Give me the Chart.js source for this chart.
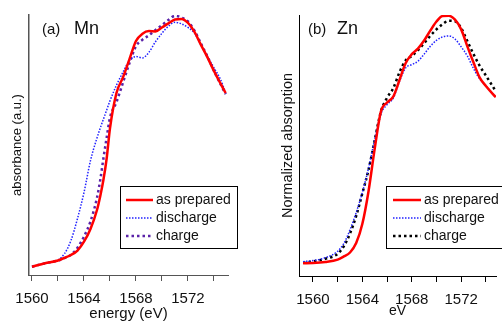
<!DOCTYPE html>
<html>
<head>
<meta charset="utf-8">
<script src="https://cdn.jsdelivr.net/npm/chart.js@4/dist/chart.umd.min.js"></script>
<style>
  html, body { margin: 0; padding: 0; background: #fff; }
  #wrap { position: relative; width: 502px; height: 323px; overflow: hidden; }
  canvas { position: absolute; top: 0; }
  #mnChart { left: 0; }
  #znChart { left: 251px; }
</style>
</head>
<body>
<div id="wrap">
  <canvas id="mnChart" width="251" height="323"></canvas>
  <canvas id="znChart" width="251" height="323"></canvas>
</div>
<script>
// (a) Mn edge
const mnEnergy = [1560, 1561, 1562, 1562.5, 1563, 1563.5, 1564, 1564.5, 1565, 1565.25, 1565.5, 1565.75,
  1566, 1566.5, 1567, 1567.5, 1568, 1568.5, 1569, 1569.5, 1570, 1570.5, 1571, 1571.5,
  1572, 1572.5, 1573, 1573.5, 1574, 1574.5, 1574.9];
const mnPrepared = [0.032, 0.045, 0.056, 0.066, 0.077, 0.094, 0.128, 0.177, 0.25, 0.303, 0.367, 0.45,
  0.564, 0.70, 0.76, 0.83, 0.90, 0.928, 0.938, 0.937, 0.952, 0.968, 0.983, 0.985,
  0.97, 0.935, 0.885, 0.837, 0.785, 0.737, 0.70];
const mnDischarge = [0.032, 0.045, 0.058, 0.082, 0.133, 0.217, 0.317, 0.44, 0.527, 0.565, 0.60, 0.635,
  0.67, 0.73, 0.78, 0.825, 0.84, 0.835, 0.857, 0.897, 0.93, 0.957, 0.972, 0.966,
  0.952, 0.93, 0.885, 0.84, 0.797, 0.753, 0.70];
const mnCharge = [0.032, 0.045, 0.056, 0.065, 0.078, 0.105, 0.148, 0.206, 0.297, 0.365, 0.45, 0.53,
  0.605, 0.665, 0.74, 0.815, 0.88, 0.905, 0.922, 0.942, 0.961, 0.981, 0.997, 0.99,
  0.975, 0.94, 0.89, 0.84, 0.785, 0.735, 0.695];

// (b) Zn edge
const znEnergy = [1559.2, 1560, 1561, 1562, 1562.5, 1563, 1563.5, 1564, 1564.5, 1565, 1565.5,
  1566, 1566.5, 1567, 1567.5, 1568, 1568.5, 1569, 1569.5, 1570, 1570.5, 1571, 1571.5,
  1572, 1572.5, 1573, 1573.5, 1574, 1574.8];
const znPrepared = [0.049, 0.050, 0.054, 0.063, 0.075, 0.09, 0.126, 0.20, 0.325, 0.488, 0.63,
  0.665, 0.687, 0.75, 0.815, 0.85, 0.871, 0.902, 0.94, 0.975, 0.996, 0.997, 0.982,
  0.945, 0.88, 0.818, 0.76, 0.728, 0.685];
const znDischarge = [0.055, 0.059, 0.07, 0.095, 0.125, 0.177, 0.243, 0.32, 0.413, 0.523, 0.62,
  0.657, 0.681, 0.745, 0.797, 0.81, 0.823, 0.85, 0.88, 0.903, 0.916, 0.92, 0.908,
  0.878, 0.843, 0.795, 0.755, 0.728, 0.685];
const znCharge = [0.051, 0.056, 0.066, 0.085, 0.114, 0.163, 0.23, 0.317, 0.407, 0.52, 0.63,
  0.683, 0.719, 0.78, 0.826, 0.843, 0.865, 0.892, 0.92, 0.945, 0.965, 0.978, 0.976,
  0.95, 0.90, 0.85, 0.805, 0.768, 0.708];

const seriesNames = ['as prepared', 'discharge', 'charge'];

const FONT = "'Liberation Sans', Arial, Helvetica, sans-serif";
Chart.defaults.font.family = FONT;
Chart.defaults.color = '#111';

function pts(xs, ys) {
  return xs.map((x, i) => ({ x: x, y: ys[i] }));
}

// panel tag + element name, e.g. "(a)  Mn"
const panelText = {
  id: 'panelText',
  afterDraw(chart, args, o) {
    const ctx = chart.ctx;
    ctx.save();
    ctx.fillStyle = '#111';
    ctx.textBaseline = 'alphabetic';
    ctx.font = '15px ' + FONT;
    ctx.fillText(o.tag, o.tagX, o.y);
    ctx.font = '18px ' + FONT;
    ctx.fillText(o.name, o.nameX, o.y);
    ctx.restore();
  }
};

// boxed legend inside the plot
const boxLegend = {
  id: 'boxLegend',
  afterDraw(chart, args, o) {
    const ctx = chart.ctx;
    ctx.save();
    ctx.fillStyle = '#fff';
    ctx.fillRect(o.x, o.y, o.w, o.h);
    ctx.strokeStyle = '#000';
    ctx.lineWidth = 1;
    ctx.strokeRect(o.x + 0.5, o.y + 0.5, o.w, o.h);
    chart.data.datasets.forEach((ds, i) => {
      const yy = o.rowY + i * o.rowGap;
      ctx.beginPath();
      ctx.strokeStyle = ds.borderColor;
      ctx.lineWidth = ds.borderWidth;
      ctx.setLineDash(ds.borderDash || []);
      ctx.moveTo(o.lineX, yy);
      ctx.lineTo(o.lineX + o.lineLen, yy);
      ctx.stroke();
      ctx.setLineDash([]);
      ctx.fillStyle = '#111';
      ctx.font = '14px ' + FONT;
      ctx.textBaseline = 'middle';
      ctx.fillText(ds.label, o.textX, yy);
    });
    ctx.restore();
  }
};

function makeChart(id, cfg) {
  return new Chart(document.getElementById(id), {
    type: 'line',
    data: {
      datasets: [
        {
          label: seriesNames[0],
          data: pts(cfg.energy, cfg.prepared),
          borderColor: '#ff0000',
          borderWidth: 2.5,
        },
        {
          label: seriesNames[1],
          data: pts(cfg.energy, cfg.discharge),
          borderColor: '#2222ff',
          borderWidth: 1.5,
          borderDash: [1.5, 1.5],
        },
        {
          label: seriesNames[2],
          data: pts(cfg.energy, cfg.charge),
          borderColor: cfg.chargeColor,
          borderWidth: 2.5,
          borderDash: [2.5, 3],
        }
      ]
    },
    options: {
      responsive: false,
      animation: false,
      events: [],
      elements: {
        point: { radius: 0 },
        line: { cubicInterpolationMode: 'monotone', borderCapStyle: 'butt' }
      },
      layout: { padding: { top: 15, right: cfg.padRight, left: 0, bottom: 0 } },
      scales: {
        x: {
          type: 'linear',
          min: cfg.xMin,
          max: cfg.xMax,
          border: { display: true, color: cfg.axisColor, width: 1 },
          grid: { display: true, drawOnChartArea: false, drawTicks: true, tickLength: 6, color: cfg.axisColor },
          ticks: {
            stepSize: 2,
            includeBounds: false,
            autoSkip: false,
            maxRotation: 0,
            minRotation: 0,
            padding: 9,
            font: { size: 15 },
            callback: v => (Math.round(v) % 4 === 0 ? String(Math.round(v)) : '')
          },
          title: { display: true, text: cfg.xTitle, font: { size: cfg.xTitleSize }, color: '#111',
                   padding: { top: 0, bottom: cfg.xTitlePad } },
          afterFit: s => { s.height = cfg.xHeight; }
        },
        y: {
          min: 0,
          max: 1,
          border: { display: true, color: cfg.axisColor, width: cfg.yAxisWidth },
          grid: { display: false },
          ticks: { display: false },
          title: { display: true, text: cfg.yTitle, font: { size: cfg.yTitleSize }, color: '#111',
                   padding: { top: cfg.yTitlePad, bottom: 0 } },
          afterFit: s => { s.width = cfg.yWidth; }
        }
      },
      plugins: {
        legend: { display: false },
        tooltip: { enabled: false },
        panelText: cfg.panel,
        boxLegend: cfg.legend
      }
    },
    plugins: [panelText, boxLegend]
  });
}

makeChart('mnChart', {
  energy: mnEnergy, prepared: mnPrepared, discharge: mnDischarge, charge: mnCharge,
  chargeColor: '#5a22a8',
  axisColor: '#555', yAxisWidth: 1.5,
  xMin: 1559.77, xMax: 1575.08, padRight: 23,
  xHeight: 48, yWidth: 29,
  xTitle: 'energy (eV)', xTitleSize: 15, xTitlePad: 0,
  yTitle: 'absorbance (a.u.)', yTitleSize: 13, yTitlePad: 10,
  panel: { tag: '(a)', name: 'Mn', tagX: 42, nameX: 74, y: 34 },
  legend: { x: 120, y: 186, w: 117, h: 62, lineX: 126, lineLen: 27, textX: 156, rowY: 200, rowGap: 18 }
});

makeChart('znChart', {
  energy: znEnergy, prepared: znPrepared, discharge: znDischarge, charge: znCharge,
  chargeColor: '#000000',
  axisColor: '#000', yAxisWidth: 1,
  xMin: 1558.87, xMax: 1574.82, padRight: 6,
  xHeight: 47, yWidth: 48,
  xTitle: 'eV', xTitleSize: 14, xTitlePad: 3,
  yTitle: 'Normalized absorption', yTitleSize: 14.5, yTitlePad: 28,
  panel: { tag: '(b)', name: 'Zn', tagX: 57, nameX: 86, y: 34 },
  legend: { x: 135, y: 186, w: 130, h: 62, lineX: 142, lineLen: 28, textX: 173, rowY: 200, rowGap: 18 }
});
</script>
</body>
</html>
